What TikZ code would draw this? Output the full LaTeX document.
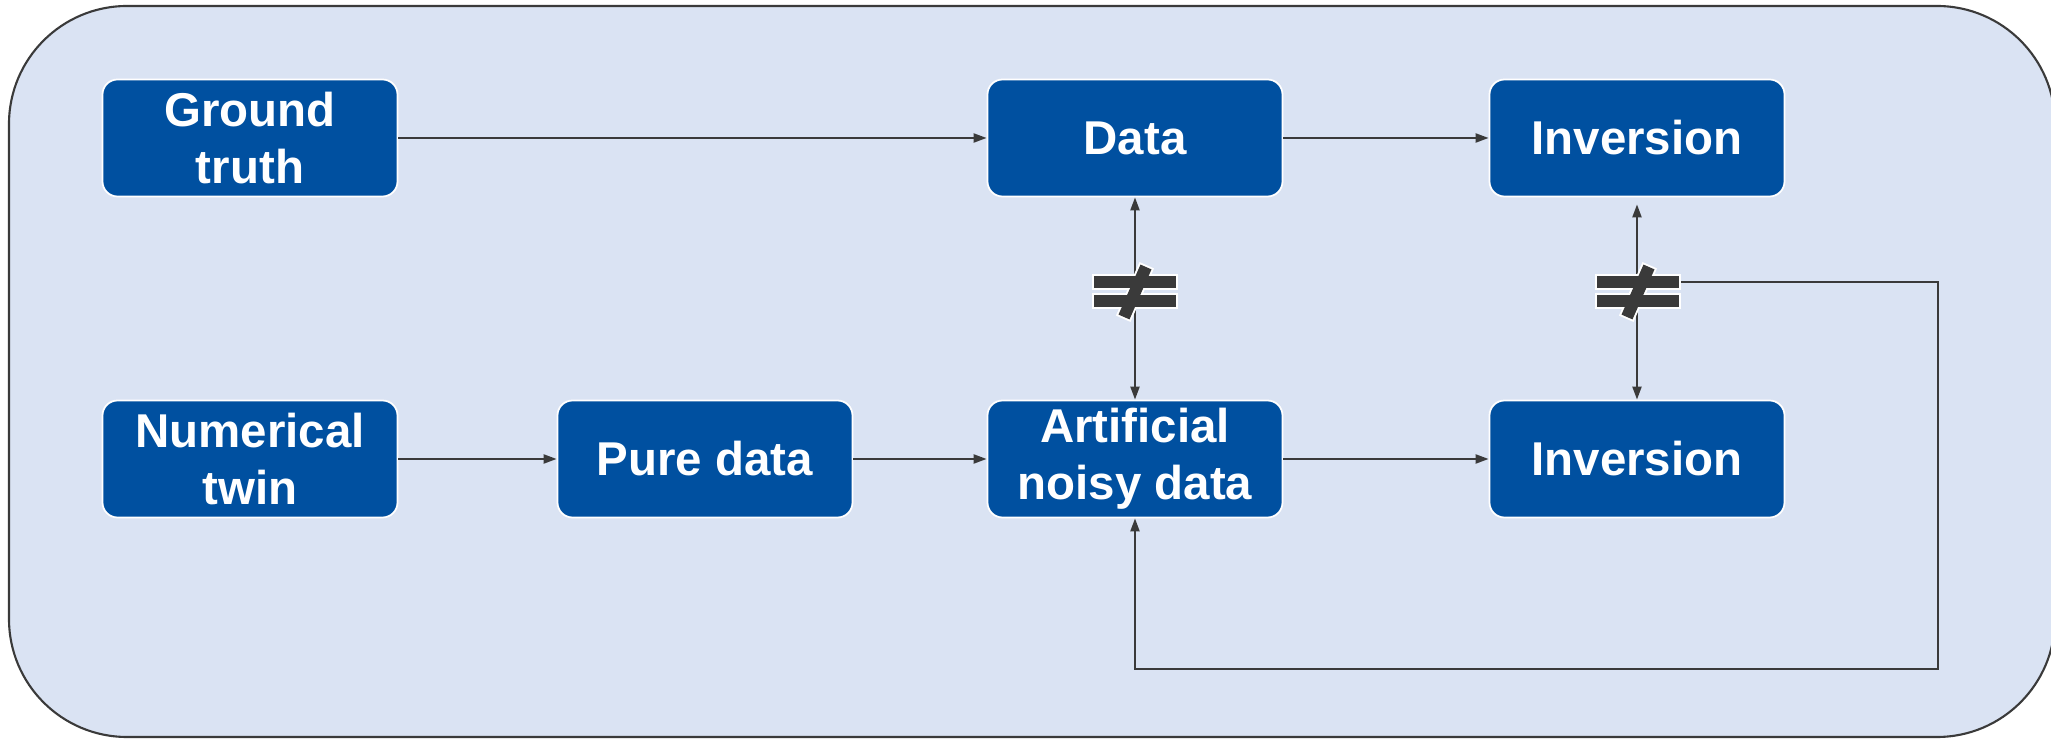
\documentclass[tikz,border=0pt]{standalone}
\usepackage{fontspec}
\setmainfont{Liberation Sans}
\usetikzlibrary{arrows.meta}
\definecolor{boxblue}{RGB}{0,80,160}
\definecolor{panelblue}{RGB}{218,227,243}
\definecolor{linegray}{RGB}{58,58,58}
\tikzstyle{every picture} += [line width=0.6pt]
\tikzstyle{block} = [rounded corners=0.15cm, fill=boxblue, draw=white, line width=0.5pt,
    minimum width=2.95cm, minimum height=1.17cm, inner ysep=0pt, text=white, align=center,
    font=\fontsize{13.5}{16.2}\selectfont\bfseries]
\tikzstyle{neqbox} = [minimum width=0.82cm, minimum height=0.5cm, inner sep=0pt]
\tikzstyle{neqedge} = [draw=white, line width=1.1pt]
\tikzstyle{neqfill} = [fill=linegray]
\tikzstyle{link} = [draw=linegray, ->, >={Triangle[length=0.13cm, width=0.09cm]}]

\begin{document}
\begin{tikzpicture}
        \useasboundingbox (0,0) rectangle (20.51,7.39);
        \clip (0,0) rectangle (20.51,7.39);
        \draw[fill=panelblue, draw=linegray, rounded corners=1.18cm] (0.09,0.02) rectangle (20.55,7.33);

        % upper row
        \node[block] (gt) at (2.50,6.01) {Ground\\truth};
        \node[block] (data) at (11.35,6.01) {Data};
        \node[block] (inv1) at (16.37,6.01) {Inversion};

        % lower row
        \node[block] (twin) at (2.50,2.80) {Numerical\\twin};
        \node[block] (pure) at (7.05,2.80) {Pure data};
        \node[block] (art) at (11.35,2.80) {Artificial\\noisy data};
        \node[block] (inv2) at (16.37,2.80) {Inversion};

        \node[neqbox] (neq1) at (11.35,4.475) {};
        \node[neqbox] (neq2) at (16.38,4.475) {};
        \coordinate (fb) at (19.38,0.70);

        \draw[link] (gt) -- (data);
        \draw[link] (data) -- (inv1);
        \draw[link] (twin) -- (pure);
        \draw[link] (pure) -- (art);
        \draw[link] (art) -- (inv2);
        \draw[link, <->] (data) -- (art);
        \draw[link, <->, shorten <=0.07cm] (inv1) -- (inv2);
        \draw[link] ([yshift=0.095cm]neq2.east) -| (fb) -| (art.south);

        % not-equal marks
        \foreach \n in {neq1,neq2} {
            \begin{scope}[shift={(\n.center)}]
                \foreach \f in {neqedge,neqfill} {
                    \path[\f] (-0.41,0.035) rectangle (0.41,0.155);
                    \path[\f] (-0.41,-0.035) rectangle (0.41,-0.155);
                    \path[\f] (0.055,0.269) -- (0.165,0.221) -- (-0.055,-0.279) -- (-0.165,-0.231) -- cycle;
                }
            \end{scope}
        }
    \end{tikzpicture}
\end{document}
